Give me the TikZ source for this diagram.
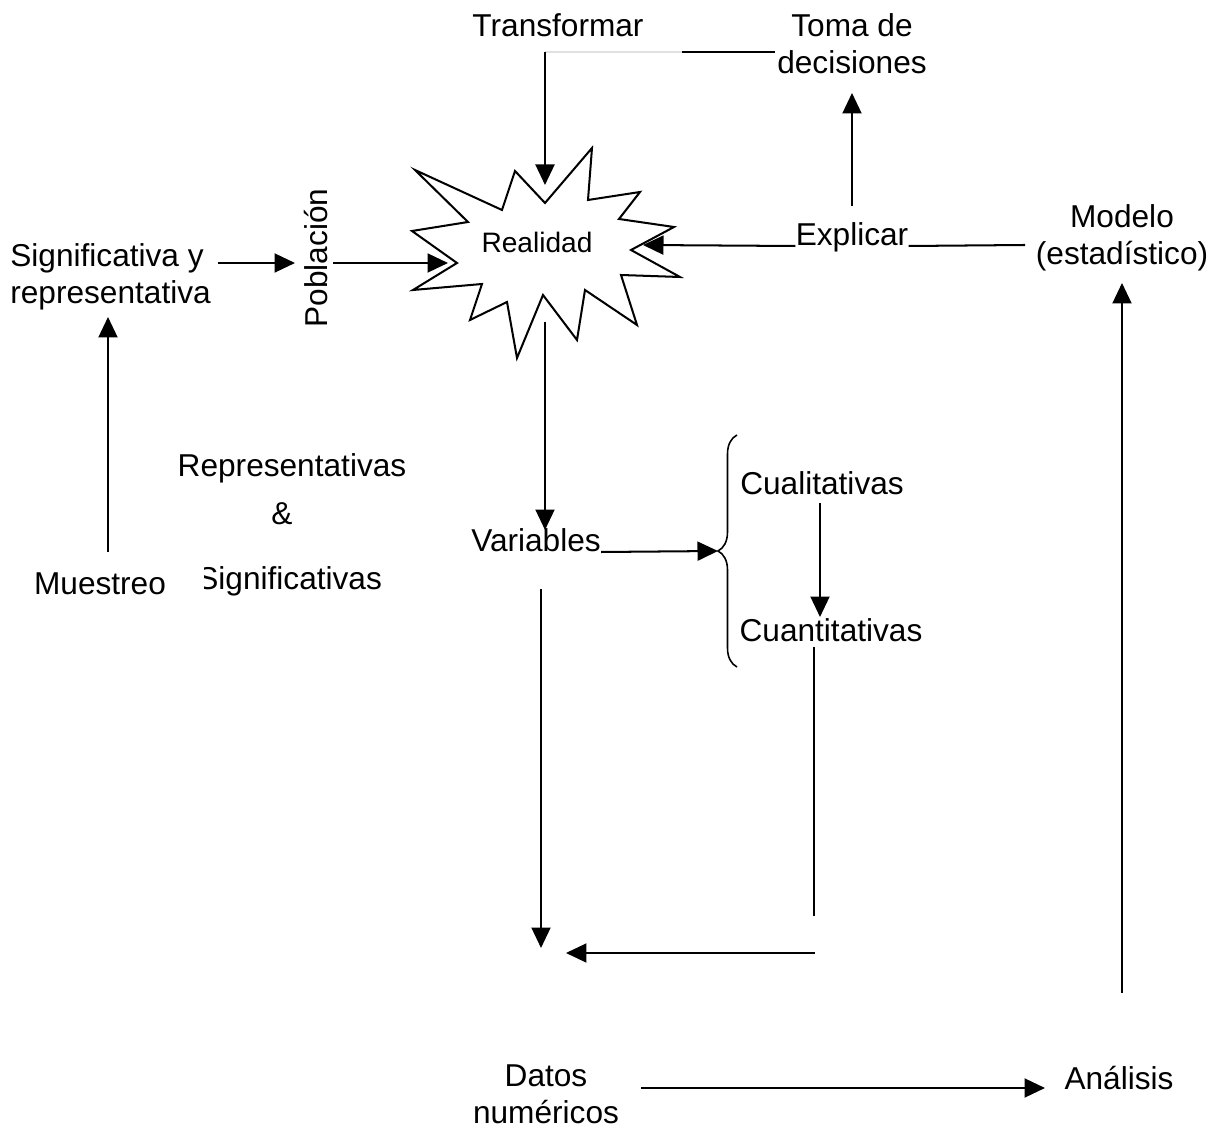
\documentclass[tikz,border=0pt]{standalone}
\usepackage{fontspec}
\setmainfont{Liberation Sans}
\usetikzlibrary{arrows.meta, decorations.pathreplacing}

\begin{document}
\begin{tikzpicture}[x=0.02cm, y=-0.02cm,
        every node/.style={inner sep=0pt, align=center, font=\fontsize{18pt}{21pt}\selectfont},
        linea/.style={line width=1.15pt},
        flecha/.style={linea, -{Triangle[length=0.41cm, width=0.38cm]}}
    ]
    \useasboundingbox (0,0) rectangle (1215,1131);

    % Textos
    \node[anchor=base] (trans) at (558,37) {Transformar};
    \node (toma) at (852,44) {Toma de\\decisiones};
    \node[anchor=base] (expl) at (852,246) {Explicar};
    \node (modelo) at (1122,238) {Modelo\\(estadístico)};
    \node[font=\fontsize{16pt}{19pt}\selectfont] (real) at (537,242) {Realidad};
    \node[anchor=west, align=left] (sig) at (10,277) {Significativa y\\representativa};
    \node[rotate=90] (pob) at (316,258) {Población};
    \node[anchor=base] (rep) at (292,477) {Representativas};
    \node[anchor=base] (amp) at (282,525) {\&};
    \node[anchor=base] (mues) at (100,595) {Muestreo};
    \begin{scope}
        \clip (204,550) rectangle (400,610);
        \node[anchor=base west] (sigs) at (197,590) {Significativas};
    \end{scope}
    \node[anchor=base] (var) at (536,552) {Variables};
    \node[anchor=base] (cual) at (822,495) {Cualitativas};
    \node[anchor=base] (cuan) at (831,642) {Cuantitativas};
    \node (datos) at (546,1094) {Datos\\numéricos};
    \node[anchor=base] (anal) at (1119,1090) {Análisis};

    % Estrella
    \draw[linea, line join=miter] (592,148) -- (588,200) -- (640,192) -- (619,219)
        -- (674,227) -- (631,250) -- (680,277) -- (621,275) -- (637,325)
        -- (585,290) -- (577,340) -- (543,295) -- (517,358) -- (507,302)
        -- (470,320) -- (482,284) -- (413,290) -- (457,263) -- (412,231)
        -- (468,222) -- (415,170) -- (502,210) -- (515,171) -- (545,203) -- cycle;

    % Puntos de enlace
    \coordinate (realN) at (545,185);
    \coordinate (realE) at (643,245);
    \coordinate (realW) at (448,263);
    \coordinate (realS) at (545,322);
    \coordinate (t1) at (545,52);
    \coordinate (t2) at (682,52);
    \coordinate (t3) at (775,52);
    \coordinate (e1) at (852,206);
    \coordinate (e2) at (852,93);
    \coordinate (m1) at (1025,245);
    \coordinate (m2) at (1122,283);
    \coordinate (a1) at (1122,993);
    \coordinate (s1) at (218,263);
    \coordinate (s2) at (295,263);
    \coordinate (p1) at (333,263);
    \coordinate (mu1) at (108,552);
    \coordinate (mu2) at (108,317);
    \coordinate (v1) at (545,530);
    \coordinate (v2) at (718,551);
    \coordinate (v3) at (541,589);
    \coordinate (v4) at (541,948);
    \coordinate (c1) at (820,503);
    \coordinate (c2) at (820,617);
    \coordinate (c3) at (814,647);
    \coordinate (c4) at (814,916);
    \coordinate (c5) at (815,953);
    \coordinate (c6) at (566,953);
    \coordinate (d1) at (641,1088);
    \coordinate (d2) at (1045,1088);
    \coordinate (b1) at (737,667);
    \coordinate (b2) at (737,435);

    % Conexiones
    \draw[linea, black!12] (t1) -- (t2);
    \draw[linea] (t2) -- (t3);
    \draw[flecha] (t1) -- (realN);
    \draw[flecha] (e1) -- (e2);
    \draw[flecha] (expl.base west) -- (realE);
    \draw[linea] (expl.base east) -- (m1);
    \draw[flecha] (a1) -- (m2);
    \draw[flecha] (s1) -- (s2);
    \draw[flecha] (p1) -- (realW);
    \draw[flecha] (mu1) -- (mu2);
    \draw[flecha] (realS) -- (v1);
    \draw[flecha] (var.base east) -- (v2);
    \draw[flecha] (c1) -- (c2);
    \draw[linea] (c3) -- (c4);
    \draw[flecha] (c5) -- (c6);
    \draw[flecha] (v3) -- (v4);
    \draw[flecha] (d1) -- (d2);
    \draw[line width=0.9pt, decorate, decoration={brace, amplitude=0.38cm}] (b1) -- (b2);
\end{tikzpicture}
\end{document}
